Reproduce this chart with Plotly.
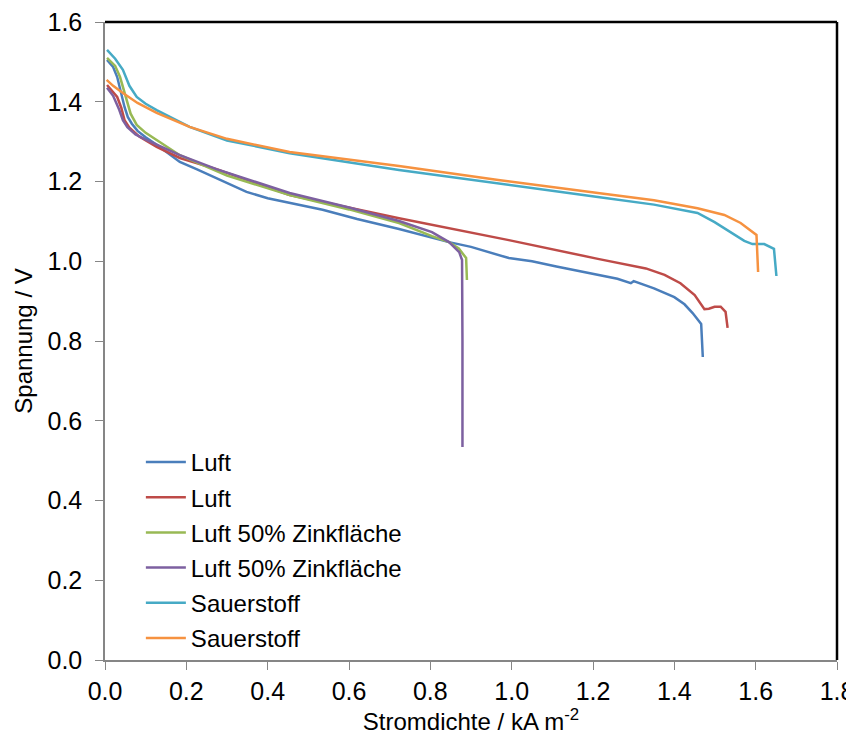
import plotly.graph_objects as go

names = ["Luft", "Luft", "Luft 50% Zinkfläche", "Luft 50% Zinkfläche", "Sauerstoff", "Sauerstoff"]
colors = ["#4A7EBB", "#BE4B48", "#98B954", "#7D60A0", "#46AAC5", "#F69240"]

luft1_x = [0.005, 0.020, 0.030, 0.040, 0.048, 0.056, 0.066, 0.080, 0.100, 0.127, 0.155, 0.184, 0.225, 0.290,
           0.348, 0.400, 0.454, 0.535, 0.620, 0.723, 0.846, 0.900, 0.993, 1.050, 1.110, 1.212, 1.260, 1.293,
           1.300, 1.350, 1.400, 1.425, 1.445, 1.466, 1.470]
luft1_y = [1.505, 1.487, 1.462, 1.420, 1.387, 1.362, 1.345, 1.327, 1.311, 1.292, 1.270, 1.249, 1.231, 1.200,
           1.174, 1.158, 1.146, 1.129, 1.106, 1.081, 1.048, 1.036, 1.008, 1.000, 0.987, 0.966, 0.956, 0.945,
           0.950, 0.932, 0.910, 0.892, 0.870, 0.843, 0.760]

luft2_x = [0.005, 0.020, 0.030, 0.040, 0.048, 0.060, 0.085, 0.127, 0.184, 0.274, 0.454, 0.723, 0.993, 1.212,
           1.263, 1.330, 1.376, 1.415, 1.450, 1.474, 1.485, 1.499, 1.514, 1.526, 1.531]
luft2_y = [1.442, 1.425, 1.412, 1.385, 1.354, 1.335, 1.312, 1.287, 1.259, 1.231, 1.166, 1.108, 1.053, 1.006,
           0.996, 0.982, 0.966, 0.945, 0.915, 0.880, 0.881, 0.886, 0.886, 0.873, 0.833]

zink1_x = [0.005, 0.025, 0.037, 0.048, 0.056, 0.063, 0.078, 0.100, 0.127, 0.184, 0.300, 0.454, 0.600, 0.723,
           0.804, 0.846, 0.870, 0.888, 0.890]
zink1_y = [1.510, 1.490, 1.462, 1.425, 1.392, 1.370, 1.342, 1.322, 1.304, 1.266, 1.215, 1.166, 1.130, 1.096,
           1.063, 1.048, 1.032, 1.008, 0.953]

zink2_x = [0.005, 0.020, 0.035, 0.044, 0.055, 0.075, 0.100, 0.127, 0.184, 0.274, 0.454, 0.600, 0.723, 0.804,
           0.846, 0.871, 0.878, 0.879, 0.879]
zink2_y = [1.435, 1.415, 1.380, 1.354, 1.336, 1.318, 1.305, 1.292, 1.266, 1.231, 1.171, 1.135, 1.101, 1.073,
           1.048, 1.023, 1.003, 0.800, 0.534]

sauer1_x = [0.005, 0.025, 0.044, 0.060, 0.078, 0.100, 0.127, 0.184, 0.208, 0.300, 0.454, 0.723, 0.967, 1.212,
            1.350, 1.457, 1.499, 1.538, 1.572, 1.592, 1.621, 1.645, 1.651]
sauer1_y = [1.530, 1.508, 1.480, 1.440, 1.412, 1.395, 1.379, 1.349, 1.337, 1.303, 1.271, 1.229, 1.196, 1.161,
            1.142, 1.121, 1.098, 1.073, 1.051, 1.043, 1.043, 1.031, 0.963]

sauer2_x = [0.004, 0.020, 0.044, 0.080, 0.127, 0.184, 0.208, 0.300, 0.454, 0.723, 0.967, 1.212, 1.350, 1.457,
            1.523, 1.563, 1.602, 1.606]
sauer2_y = [1.455, 1.440, 1.422, 1.397, 1.372, 1.347, 1.337, 1.307, 1.274, 1.239, 1.204, 1.171, 1.153, 1.133,
            1.116, 1.096, 1.066, 0.973]

xs = [luft1_x, luft2_x, zink1_x, zink2_x, sauer1_x, sauer2_x]
ys = [luft1_y, luft2_y, zink1_y, zink2_y, sauer1_y, sauer2_y]

x_ticks = [0.0, 0.2, 0.4, 0.6, 0.8, 1.0, 1.2, 1.4, 1.6, 1.8]
y_ticks = [0.0, 0.2, 0.4, 0.6, 0.8, 1.0, 1.2, 1.4, 1.6]

fig = go.Figure()
for i in range(6):
    fig.add_trace(go.Scatter(x=xs[i], y=ys[i], mode="lines", name=names[i],
                             line=dict(color=colors[i], width=2.5), legendgroup=f"g{i}"))

font = "Liberation Sans, Arial, sans-serif"
fig.update_layout(
    width=846, height=735,
    margin=dict(l=97, r=17, t=14, b=83, autoexpand=False),
    paper_bgcolor="white", plot_bgcolor="white",
    font=dict(family=font, size=24, color="black"),
    showlegend=True,
    legend=dict(x=0.049, y=0.345, xanchor="left", yanchor="top", bgcolor="rgba(0,0,0,0)",
                font=dict(size=24), traceorder="grouped", tracegroupgap=1, itemwidth=40),
    xaxis=dict(range=[0, 1.8], tickvals=x_ticks, ticktext=[f"{v:.1f}" for v in x_ticks],
               showgrid=False, zeroline=False, showline=True, linecolor="#868686", linewidth=1.5,
               ticks="outside", ticklen=8, tickcolor="#868686", tickfont=dict(size=25),
               ticklabeloverflow="allow", automargin=False,
               title=dict(text="Stromdichte / kA m<sup>-2</sup>", standoff=8, font=dict(size=24))),
    yaxis=dict(range=[0, 1.6], tickvals=y_ticks, ticktext=[f"{v:.1f}" for v in y_ticks],
               showgrid=False, zeroline=False, showline=True, linecolor="#868686", linewidth=1.5,
               ticks="outside", ticklen=8, tickcolor="#868686", tickfont=dict(size=25),
               ticklabelstandoff=8, ticklabeloverflow="allow", automargin=False,
               title=dict(text="Spannung / V", standoff=8, font=dict(size=24))),
    shapes=[
        dict(type="line", xref="paper", yref="paper", x0=0, x1=1, y0=1, y1=1, line=dict(color="black", width=2.5)),
        dict(type="line", xref="paper", yref="paper", x0=1, x1=1, y0=0, y1=1, line=dict(color="black", width=2.5)),
    ],
)

fig.write_html("out.html")
